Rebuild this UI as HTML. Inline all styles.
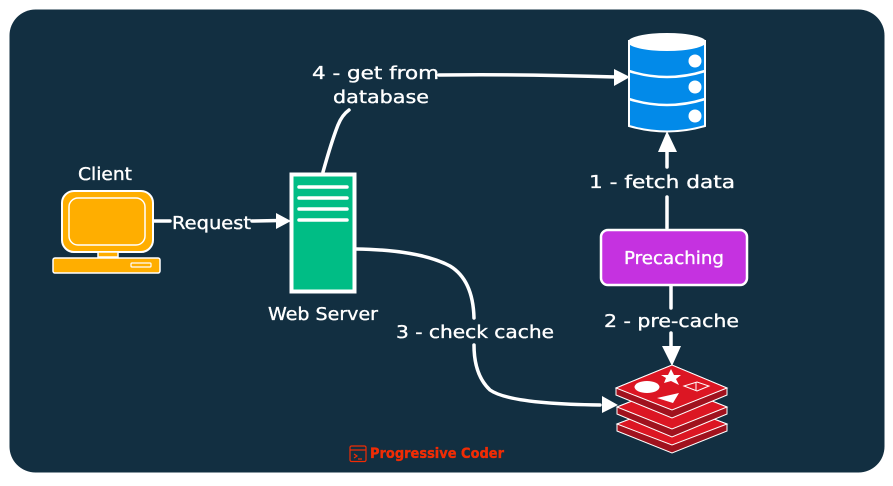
<!DOCTYPE html>
<html><head><meta charset="utf-8"><style>
html,body{margin:0;padding:0;background:#fff;width:893px;height:486px;overflow:hidden}
svg{display:block}
text{font-family:"DejaVu Sans","Liberation Sans",sans-serif;fill:#fff;font-size:18px;stroke:#fff;stroke-width:.35px}
</style></head><body>
<svg width="893" height="486" viewBox="0 0 893 486" xmlns="http://www.w3.org/2000/svg">
<rect x="9.5" y="9.5" width="875" height="463" rx="26" fill="#122f41"/>

<!-- connectors -->
<g fill="none" stroke="#fff" stroke-width="3.500" stroke-linecap="round">
<path d="M153 221L170 221M252 221L280 220.500"/>
<path d="M323 172Q332 140 338 125Q342 115 349 110"/>
<path d="M439 75Q520 74 616 77"/>
<path d="M667 228L667 197M667 167L667 150"/>
<path d="M671 286L671 308M671 333L671 350"/>
<path d="M356 249Q420 250 450 266Q473 280 474 318M474 345Q474 375 490 390Q510 404 600 405"/>
</g>
<g fill="#fff">
<path d="M276 213L291 221L276 229Z"/>
<path d="M614 69L630 77L614 86Z"/>
<path d="M667 131L677 152L658 152Z"/>
<path d="M662 346L681 346L672 366Z"/>
<path d="M602 396L618 405L602 413Z"/>
</g>

<!-- Client -->
<rect x="62" y="191" width="91" height="61" rx="12" fill="#ffae00" stroke="#fff" stroke-width="2"/>
<rect x="69" y="198" width="76" height="47" rx="9" fill="#ffae00" stroke="#fff" stroke-width="1.500"/>
<rect x="98" y="252" width="20" height="5" fill="#ffae00" stroke="#fff" stroke-width="1.500"/>
<rect x="53" y="258" width="107" height="15" rx="2" fill="#ffae00" stroke="#fff" stroke-width="1.500"/>
<rect x="131" y="263" width="20" height="4" rx="1" fill="#ffae00" stroke="#fff" stroke-width="1.200"/>
<text x="78" y="180" textLength="54" lengthAdjust="spacingAndGlyphs">Client</text>
<text x="172" y="229" textLength="79" lengthAdjust="spacingAndGlyphs">Request</text>

<!-- Web server -->
<rect x="291.500" y="174.500" width="63" height="117" fill="#00bd85" stroke="#fff" stroke-width="4"/>
<g stroke="#fff" stroke-width="3.500" stroke-linecap="round">
<path d="M299 187H347M299 198H347M299 209H347M299 220H347"/>
</g>
<text x="268" y="320" textLength="110" lengthAdjust="spacingAndGlyphs">Web Server</text>

<!-- Database -->
<path d="M629 41V126Q667 137 705 126V41Z" fill="#028ae9" stroke="#fff" stroke-width="2"/>
<ellipse cx="667" cy="42" rx="39" ry="9" fill="#fff"/>
<g fill="none" stroke="#fff" stroke-width="2.500">
<path d="M629 71Q667 83 705 71M629 99Q667 111 705 99"/>
</g>
<circle cx="695" cy="61" r="6.500" fill="#fff"/>
<circle cx="695" cy="87" r="6.500" fill="#fff"/>
<circle cx="695" cy="116" r="6.500" fill="#fff"/>

<!-- Labels -->
<text x="312" y="79" textLength="127" lengthAdjust="spacingAndGlyphs">4 - get from</text>
<text x="333" y="103" textLength="96" lengthAdjust="spacingAndGlyphs">database</text>
<text x="589" y="188" textLength="146" lengthAdjust="spacingAndGlyphs">1 - fetch data</text>
<text x="604" y="327" textLength="135" lengthAdjust="spacingAndGlyphs">2 - pre-cache</text>
<text x="396" y="338" textLength="158" lengthAdjust="spacingAndGlyphs">3 - check cache</text>

<!-- Precaching -->
<rect x="601" y="230" width="146" height="55" rx="7" fill="#c532e0" stroke="#fff" stroke-width="2.500"/>
<text x="624" y="264" textLength="100" lengthAdjust="spacingAndGlyphs">Precaching</text>

<!-- Redis -->
<g stroke="#fff" stroke-width="1">
<path d="M617 424L672 403L727 424V431L672 453L617 431Z" fill="#a0121e"/>
<path d="M617 424L672 403L727 424L672 445Z" fill="#dc1623"/>
<path d="M617 407L672 385L727 407V414L672 437L617 414Z" fill="#a0121e"/>
<path d="M617 407L672 385L727 407L672 429Z" fill="#dc1623"/>
<path d="M616 388L672 365L727 388V395L672 418L616 395Z" fill="#a0121e"/>
<path d="M616 388L672 365L727 388L672 410Z" fill="#dc1623"/>
</g>
<ellipse cx="647" cy="387" rx="12.500" ry="6" fill="#fff"/>
<path d="M671 369L674 375L681 375L676 379L679 385L671 381L664 383L666 378L661 375L668 375Z" fill="#fff"/>
<path d="M657 398L679 393L673 403Z" fill="#fff"/>
<path d="M684 386L697 382L709 386L697 391Z" fill="none" stroke="#fff" stroke-width="1"/>
<path d="M696 382V391" stroke="#fff" stroke-width="1"/>

<!-- Footer -->
<g fill="none" stroke="#f02c05" stroke-width="1.200">
<rect x="350" y="446" width="16" height="15.500" rx="1.500"/>
<path d="M350 450H366M354 454L357 456L354 458M358 459H362"/>
</g>
<text x="370" y="458" textLength="134" lengthAdjust="spacingAndGlyphs" style="fill:#f02c05;stroke:#f02c05;font-size:14px;font-weight:bold">Progressive Coder</text>
</svg>
</body></html>
